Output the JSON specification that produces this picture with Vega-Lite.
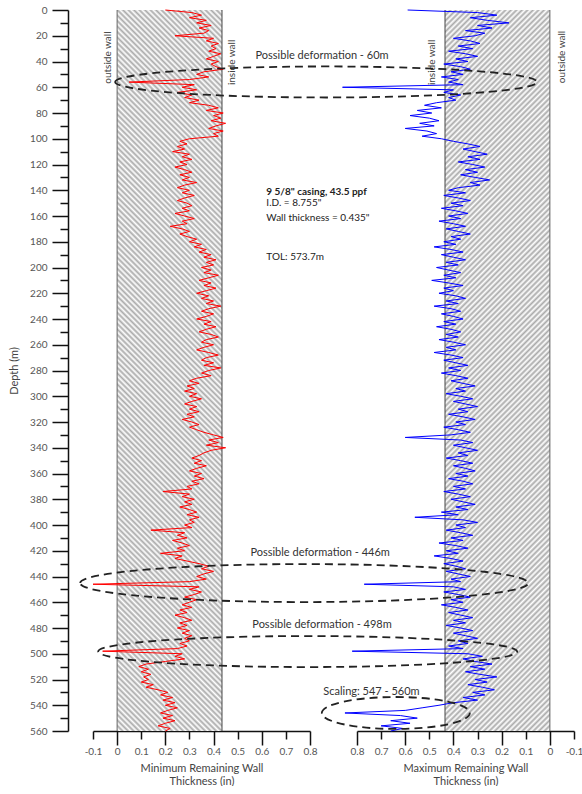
{
"$schema":"https://vega.github.io/schema/vega-lite/v6.json",
"padding":{"left":8,"top":5,"right":0,"bottom":0},
"bounds":"flush",
"spacing":47,
"config":{"font":"Lato","view":{"stroke":null},"axis":{"grid":false,"labelFont":"Lato","titleFont":"Lato","labelColor":"#555","titleColor":"#444","titleFontWeight":"normal","labelFontSize":10,"titleFontSize":11,"domainColor":"#111","tickColor":"#111","domainWidth":1.5,"tickWidth":1.5},"text":{"font":"Lato"}},
"datasets":{
"walls":[{"inner":0.435,"outer":0,"top":0,"bottom":560}],
"notes":[
{"k":"def","t":"Possible deformation - 60m","d":36.1,"v":0.945},
{"k":"def","t":"Possible deformation - 446m","d":421.9,"v":0.953},
{"k":"def","t":"Possible deformation - 498m","d":477.7,"v":0.945},
{"k":"def","t":"Scaling: 547 - 560m","d":529.7,"v":0.74},
{"k":"head","t":"9 5/8\" casing, 43.5 ppf","d":141.4,"v":1.176},
{"k":"info","t":"I.D. = 8.755\"","d":149.6,"v":1.176},
{"k":"info","t":"Wall thickness = 0.435\"","d":161.3,"v":1.176},
{"k":"info","t":"TOL: 573.7m","d":191.6,"v":1.176},
{"k":"wallL","t":"outside wall","d":37,"v":-0.037},
{"k":"wallL","t":"inside wall","d":40.7,"v":0.477},
{"k":"wallR","t":"inside wall","d":40.7,"v":0.49},
{"k":"wallR","t":"outside wall","d":36.5,"v":-0.052}],
"zones":[{"z":"60m","d":55.9,"v":0.928},{"z":"446m","d":445.1,"v":1.019},{"z":"498m","d":498.3,"v":1.0045},{"z":"scaling","d":546,"v":0.639}],
"log":[
{"d":0,"a":0.2,"b":0.59},{"d":2,"a":0.31,"b":0.3},{"d":4,"a":0.35,"b":0.22},{"d":6,"a":0.3,"b":0.33},{"d":8,"a":0.37,"b":0.26},{"d":10,"a":0.33,"b":0.17},{"d":12,"a":0.39,"b":0.3},{"d":14,"a":0.34,"b":0.24},{"d":16,"a":0.38,"b":0.35},{"d":18,"a":0.36,"b":0.27},
{"d":20,"a":0.24,"b":0.31},{"d":22,"a":0.4,"b":0.4},{"d":24,"a":0.37,"b":0.33},{"d":26,"a":0.42,"b":0.29},{"d":28,"a":0.39,"b":0.38},{"d":30,"a":0.41,"b":0.32},{"d":32,"a":0.38,"b":0.42},{"d":34,"a":0.43,"b":0.35},{"d":36,"a":0.4,"b":0.3},{"d":38,"a":0.37,"b":0.39},
{"d":40,"a":0.42,"b":0.34},{"d":42,"a":0.39,"b":0.44},{"d":44,"a":0.41,"b":0.37},{"d":46,"a":0.44,"b":0.33},{"d":48,"a":0.36,"b":0.41},{"d":50,"a":0.33,"b":0.36},{"d":52,"a":0.38,"b":0.45},{"d":54,"a":0.3,"b":0.38},{"d":56,"a":0.05,"b":0.42},{"d":58,"a":0.32,"b":0.36},
{"d":60,"a":0.27,"b":0.86},{"d":62,"a":0.33,"b":0.4},{"d":64,"a":0.25,"b":0.44},{"d":66,"a":0.31,"b":0.37},{"d":68,"a":0.28,"b":0.42},{"d":70,"a":0.34,"b":0.39},{"d":72,"a":0.3,"b":0.47},{"d":74,"a":0.38,"b":0.52},{"d":76,"a":0.42,"b":0.45},{"d":78,"a":0.37,"b":0.55},
{"d":80,"a":0.44,"b":0.49},{"d":82,"a":0.4,"b":0.58},{"d":84,"a":0.43,"b":0.5},{"d":86,"a":0.39,"b":0.46},{"d":88,"a":0.45,"b":0.54},{"d":90,"a":0.41,"b":0.48},{"d":92,"a":0.38,"b":0.6},{"d":94,"a":0.44,"b":0.51},{"d":96,"a":0.4,"b":0.47},{"d":98,"a":0.42,"b":0.53},
{"d":100,"a":0.3,"b":0.45},{"d":102,"a":0.26,"b":0.4},{"d":104,"a":0.29,"b":0.34},{"d":106,"a":0.25,"b":0.29},{"d":108,"a":0.28,"b":0.36},{"d":110,"a":0.23,"b":0.31},{"d":112,"a":0.3,"b":0.26},{"d":114,"a":0.27,"b":0.34},{"d":116,"a":0.31,"b":0.29},{"d":118,"a":0.26,"b":0.38},
{"d":120,"a":0.29,"b":0.32},{"d":122,"a":0.24,"b":0.27},{"d":124,"a":0.28,"b":0.35},{"d":126,"a":0.31,"b":0.3},{"d":128,"a":0.26,"b":0.37},{"d":130,"a":0.3,"b":0.31},{"d":132,"a":0.27,"b":0.25},{"d":134,"a":0.33,"b":0.33},{"d":136,"a":0.28,"b":0.29},{"d":138,"a":0.25,"b":0.38},
{"d":140,"a":0.3,"b":0.42},{"d":142,"a":0.27,"b":0.35},{"d":144,"a":0.32,"b":0.44},{"d":146,"a":0.28,"b":0.38},{"d":148,"a":0.25,"b":0.33},{"d":150,"a":0.29,"b":0.41},{"d":152,"a":0.31,"b":0.36},{"d":154,"a":0.27,"b":0.45},{"d":156,"a":0.3,"b":0.39},{"d":158,"a":0.24,"b":0.34},
{"d":160,"a":0.28,"b":0.42},{"d":162,"a":0.32,"b":0.37},{"d":164,"a":0.27,"b":0.46},{"d":166,"a":0.29,"b":0.4},{"d":168,"a":0.22,"b":0.35},{"d":170,"a":0.27,"b":0.43},{"d":172,"a":0.3,"b":0.38},{"d":174,"a":0.26,"b":0.33},{"d":176,"a":0.29,"b":0.41},{"d":178,"a":0.33,"b":0.37},
{"d":180,"a":0.3,"b":0.44},{"d":182,"a":0.35,"b":0.39},{"d":184,"a":0.32,"b":0.48},{"d":186,"a":0.37,"b":0.41},{"d":188,"a":0.34,"b":0.36},{"d":190,"a":0.39,"b":0.45},{"d":192,"a":0.36,"b":0.4},{"d":194,"a":0.41,"b":0.35},{"d":196,"a":0.37,"b":0.43},{"d":198,"a":0.4,"b":0.38},
{"d":200,"a":0.35,"b":0.47},{"d":202,"a":0.39,"b":0.42},{"d":204,"a":0.36,"b":0.37},{"d":206,"a":0.42,"b":0.44},{"d":208,"a":0.38,"b":0.39},{"d":210,"a":0.34,"b":0.49},{"d":212,"a":0.39,"b":0.42},{"d":214,"a":0.36,"b":0.36},{"d":216,"a":0.41,"b":0.44},{"d":218,"a":0.37,"b":0.4},
{"d":220,"a":0.33,"b":0.46},{"d":222,"a":0.38,"b":0.39},{"d":224,"a":0.35,"b":0.35},{"d":226,"a":0.4,"b":0.43},{"d":228,"a":0.37,"b":0.38},{"d":230,"a":0.43,"b":0.48},{"d":232,"a":0.38,"b":0.41},{"d":234,"a":0.35,"b":0.37},{"d":236,"a":0.4,"b":0.45},{"d":238,"a":0.37,"b":0.4},
{"d":240,"a":0.33,"b":0.36},{"d":242,"a":0.39,"b":0.44},{"d":244,"a":0.36,"b":0.39},{"d":246,"a":0.41,"b":0.47},{"d":248,"a":0.37,"b":0.41},{"d":250,"a":0.34,"b":0.37},{"d":252,"a":0.39,"b":0.43},{"d":254,"a":0.42,"b":0.38},{"d":256,"a":0.37,"b":0.46},{"d":258,"a":0.35,"b":0.4},
{"d":260,"a":0.4,"b":0.35},{"d":262,"a":0.36,"b":0.43},{"d":264,"a":0.33,"b":0.39},{"d":266,"a":0.38,"b":0.48},{"d":268,"a":0.42,"b":0.41},{"d":270,"a":0.37,"b":0.36},{"d":272,"a":0.35,"b":0.44},{"d":274,"a":0.4,"b":0.39},{"d":276,"a":0.36,"b":0.34},{"d":278,"a":0.43,"b":0.42},
{"d":280,"a":0.38,"b":0.37},{"d":282,"a":0.35,"b":0.45},{"d":284,"a":0.39,"b":0.39},{"d":286,"a":0.33,"b":0.34},{"d":288,"a":0.3,"b":0.41},{"d":290,"a":0.34,"b":0.36},{"d":292,"a":0.29,"b":0.31},{"d":294,"a":0.32,"b":0.39},{"d":296,"a":0.28,"b":0.35},{"d":298,"a":0.33,"b":0.43},
{"d":300,"a":0.3,"b":0.37},{"d":302,"a":0.35,"b":0.32},{"d":304,"a":0.31,"b":0.4},{"d":306,"a":0.28,"b":0.35},{"d":308,"a":0.33,"b":0.3},{"d":310,"a":0.3,"b":0.38},{"d":312,"a":0.34,"b":0.34},{"d":314,"a":0.29,"b":0.42},{"d":316,"a":0.32,"b":0.36},{"d":318,"a":0.27,"b":0.31},
{"d":320,"a":0.31,"b":0.39},{"d":322,"a":0.34,"b":0.35},{"d":324,"a":0.3,"b":0.44},{"d":326,"a":0.33,"b":0.38},{"d":328,"a":0.36,"b":0.33},{"d":330,"a":0.4,"b":0.41},{"d":332,"a":0.44,"b":0.6},{"d":334,"a":0.38,"b":0.37},{"d":336,"a":0.42,"b":0.32},{"d":338,"a":0.37,"b":0.4},
{"d":340,"a":0.45,"b":0.35},{"d":342,"a":0.39,"b":0.3},{"d":344,"a":0.36,"b":0.38},{"d":346,"a":0.34,"b":0.34},{"d":348,"a":0.31,"b":0.43},{"d":350,"a":0.35,"b":0.37},{"d":352,"a":0.32,"b":0.32},{"d":354,"a":0.37,"b":0.4},{"d":356,"a":0.33,"b":0.35},{"d":358,"a":0.3,"b":0.31},
{"d":360,"a":0.35,"b":0.39},{"d":362,"a":0.32,"b":0.34},{"d":364,"a":0.36,"b":0.42},{"d":366,"a":0.31,"b":0.36},{"d":368,"a":0.34,"b":0.32},{"d":370,"a":0.29,"b":0.4},{"d":372,"a":0.31,"b":0.35},{"d":374,"a":0.19,"b":0.44},{"d":376,"a":0.3,"b":0.38},{"d":378,"a":0.27,"b":0.33},
{"d":380,"a":0.32,"b":0.41},{"d":382,"a":0.28,"b":0.36},{"d":384,"a":0.31,"b":0.31},{"d":386,"a":0.26,"b":0.39},{"d":388,"a":0.3,"b":0.34},{"d":390,"a":0.33,"b":0.45},{"d":392,"a":0.29,"b":0.38},{"d":394,"a":0.34,"b":0.56},{"d":396,"a":0.3,"b":0.36},{"d":398,"a":0.32,"b":0.3},
{"d":400,"a":0.28,"b":0.39},{"d":402,"a":0.31,"b":0.35},{"d":404,"a":0.14,"b":0.43},{"d":406,"a":0.28,"b":0.37},{"d":408,"a":0.25,"b":0.32},{"d":410,"a":0.29,"b":0.41},{"d":412,"a":0.23,"b":0.36},{"d":414,"a":0.27,"b":0.46},{"d":416,"a":0.3,"b":0.39},{"d":418,"a":0.25,"b":0.34},
{"d":420,"a":0.28,"b":0.43},{"d":422,"a":0.18,"b":0.38},{"d":424,"a":0.27,"b":0.48},{"d":426,"a":0.24,"b":0.41},{"d":428,"a":0.29,"b":0.36},{"d":430,"a":0.34,"b":0.44},{"d":432,"a":0.38,"b":0.39},{"d":434,"a":0.35,"b":0.35},{"d":436,"a":0.4,"b":0.43},{"d":438,"a":0.36,"b":0.38},
{"d":440,"a":0.33,"b":0.33},{"d":442,"a":0.37,"b":0.41},{"d":444,"a":0.3,"b":0.37},{"d":446,"a":-0.1,"b":0.77},{"d":448,"a":0.34,"b":0.4},{"d":450,"a":0.3,"b":0.35},{"d":452,"a":0.35,"b":0.44},{"d":454,"a":0.32,"b":0.38},{"d":456,"a":0.28,"b":0.33},{"d":458,"a":0.33,"b":0.41},
{"d":460,"a":0.3,"b":0.36},{"d":462,"a":0.27,"b":0.45},{"d":464,"a":0.31,"b":0.39},{"d":466,"a":0.26,"b":0.34},{"d":468,"a":0.29,"b":0.42},{"d":470,"a":0.24,"b":0.37},{"d":472,"a":0.28,"b":0.32},{"d":474,"a":0.31,"b":0.4},{"d":476,"a":0.26,"b":0.35},{"d":478,"a":0.29,"b":0.43},
{"d":480,"a":0.25,"b":0.37},{"d":482,"a":0.3,"b":0.32},{"d":484,"a":0.27,"b":0.4},{"d":486,"a":0.31,"b":0.35},{"d":488,"a":0.28,"b":0.3},{"d":490,"a":0.3,"b":0.38},{"d":492,"a":0.26,"b":0.34},{"d":494,"a":0.29,"b":0.42},{"d":496,"a":0.25,"b":0.36},{"d":498,"a":-0.06,"b":0.82},
{"d":500,"a":0.27,"b":0.34},{"d":502,"a":0.24,"b":0.28},{"d":504,"a":0.28,"b":0.36},{"d":506,"a":0.2,"b":0.31},{"d":508,"a":0.12,"b":0.24},{"d":510,"a":0.09,"b":0.33},{"d":512,"a":0.13,"b":0.27},{"d":514,"a":0.1,"b":0.35},{"d":516,"a":0.14,"b":0.29},{"d":518,"a":0.11,"b":0.22},
{"d":520,"a":0.13,"b":0.31},{"d":522,"a":0.1,"b":0.26},{"d":524,"a":0.15,"b":0.34},{"d":526,"a":0.12,"b":0.28},{"d":528,"a":0.17,"b":0.23},{"d":530,"a":0.21,"b":0.32},{"d":532,"a":0.18,"b":0.27},{"d":534,"a":0.23,"b":0.36},{"d":536,"a":0.19,"b":0.3},{"d":538,"a":0.24,"b":0.4},
{"d":540,"a":0.2,"b":0.46},{"d":542,"a":0.25,"b":0.53},{"d":544,"a":0.21,"b":0.6},{"d":546,"a":0.18,"b":0.85},{"d":548,"a":0.23,"b":0.62},{"d":550,"a":0.19,"b":0.55},{"d":552,"a":0.24,"b":0.66},{"d":554,"a":0.2,"b":0.58},{"d":556,"a":0.17,"b":0.7},{"d":558,"a":0.22,"b":0.61},
{"d":560,"a":0.2,"b":0.66}]
},
"hconcat":[
{"width":217,"height":721,
"layer":[
{"data":{"name":"walls"},
"mark":{"type":"rect","stroke":null,"fill":{"gradient":"linear","x1":0,"y1":1,"x2":0.1632,"y2":-0.1218,"stops":[
{"offset":0,"color":"#aaa"},{"offset":0.0033,"color":"#fff"},{"offset":0.0067,"color":"#aaa"},{"offset":0.01,"color":"#fff"},{"offset":0.0133,"color":"#aaa"},{"offset":0.0167,"color":"#fff"},{"offset":0.02,"color":"#aaa"},{"offset":0.0233,"color":"#fff"},{"offset":0.0267,"color":"#aaa"},{"offset":0.03,"color":"#fff"},{"offset":0.0333,"color":"#aaa"},{"offset":0.0367,"color":"#fff"},{"offset":0.04,"color":"#aaa"},{"offset":0.0433,"color":"#fff"},{"offset":0.0467,"color":"#aaa"},{"offset":0.05,"color":"#fff"},{"offset":0.0533,"color":"#aaa"},{"offset":0.0567,"color":"#fff"},{"offset":0.06,"color":"#aaa"},{"offset":0.0633,"color":"#fff"},{"offset":0.0667,"color":"#aaa"},{"offset":0.07,"color":"#fff"},{"offset":0.0733,"color":"#aaa"},{"offset":0.0767,"color":"#fff"},{"offset":0.08,"color":"#aaa"},{"offset":0.0833,"color":"#fff"},{"offset":0.0867,"color":"#aaa"},{"offset":0.09,"color":"#fff"},{"offset":0.0933,"color":"#aaa"},{"offset":0.0967,"color":"#fff"},
{"offset":0.10,"color":"#aaa"},{"offset":0.1033,"color":"#fff"},{"offset":0.1067,"color":"#aaa"},{"offset":0.11,"color":"#fff"},{"offset":0.1133,"color":"#aaa"},{"offset":0.1167,"color":"#fff"},{"offset":0.12,"color":"#aaa"},{"offset":0.1233,"color":"#fff"},{"offset":0.1267,"color":"#aaa"},{"offset":0.13,"color":"#fff"},{"offset":0.1333,"color":"#aaa"},{"offset":0.1367,"color":"#fff"},{"offset":0.14,"color":"#aaa"},{"offset":0.1433,"color":"#fff"},{"offset":0.1467,"color":"#aaa"},{"offset":0.15,"color":"#fff"},{"offset":0.1533,"color":"#aaa"},{"offset":0.1567,"color":"#fff"},{"offset":0.16,"color":"#aaa"},{"offset":0.1633,"color":"#fff"},{"offset":0.1667,"color":"#aaa"},{"offset":0.17,"color":"#fff"},{"offset":0.1733,"color":"#aaa"},{"offset":0.1767,"color":"#fff"},{"offset":0.18,"color":"#aaa"},{"offset":0.1833,"color":"#fff"},{"offset":0.1867,"color":"#aaa"},{"offset":0.19,"color":"#fff"},{"offset":0.1933,"color":"#aaa"},{"offset":0.1967,"color":"#fff"},
{"offset":0.20,"color":"#aaa"},{"offset":0.2033,"color":"#fff"},{"offset":0.2067,"color":"#aaa"},{"offset":0.21,"color":"#fff"},{"offset":0.2133,"color":"#aaa"},{"offset":0.2167,"color":"#fff"},{"offset":0.22,"color":"#aaa"},{"offset":0.2233,"color":"#fff"},{"offset":0.2267,"color":"#aaa"},{"offset":0.23,"color":"#fff"},{"offset":0.2333,"color":"#aaa"},{"offset":0.2367,"color":"#fff"},{"offset":0.24,"color":"#aaa"},{"offset":0.2433,"color":"#fff"},{"offset":0.2467,"color":"#aaa"},{"offset":0.25,"color":"#fff"},{"offset":0.2533,"color":"#aaa"},{"offset":0.2567,"color":"#fff"},{"offset":0.26,"color":"#aaa"},{"offset":0.2633,"color":"#fff"},{"offset":0.2667,"color":"#aaa"},{"offset":0.27,"color":"#fff"},{"offset":0.2733,"color":"#aaa"},{"offset":0.2767,"color":"#fff"},{"offset":0.28,"color":"#aaa"},{"offset":0.2833,"color":"#fff"},{"offset":0.2867,"color":"#aaa"},{"offset":0.29,"color":"#fff"},{"offset":0.2933,"color":"#aaa"},{"offset":0.2967,"color":"#fff"},
{"offset":0.30,"color":"#aaa"},{"offset":0.3033,"color":"#fff"},{"offset":0.3067,"color":"#aaa"},{"offset":0.31,"color":"#fff"},{"offset":0.3133,"color":"#aaa"},{"offset":0.3167,"color":"#fff"},{"offset":0.32,"color":"#aaa"},{"offset":0.3233,"color":"#fff"},{"offset":0.3267,"color":"#aaa"},{"offset":0.33,"color":"#fff"},{"offset":0.3333,"color":"#aaa"},{"offset":0.3367,"color":"#fff"},{"offset":0.34,"color":"#aaa"},{"offset":0.3433,"color":"#fff"},{"offset":0.3467,"color":"#aaa"},{"offset":0.35,"color":"#fff"},{"offset":0.3533,"color":"#aaa"},{"offset":0.3567,"color":"#fff"},{"offset":0.36,"color":"#aaa"},{"offset":0.3633,"color":"#fff"},{"offset":0.3667,"color":"#aaa"},{"offset":0.37,"color":"#fff"},{"offset":0.3733,"color":"#aaa"},{"offset":0.3767,"color":"#fff"},{"offset":0.38,"color":"#aaa"},{"offset":0.3833,"color":"#fff"},{"offset":0.3867,"color":"#aaa"},{"offset":0.39,"color":"#fff"},{"offset":0.3933,"color":"#aaa"},{"offset":0.3967,"color":"#fff"},
{"offset":0.40,"color":"#aaa"},{"offset":0.4033,"color":"#fff"},{"offset":0.4067,"color":"#aaa"},{"offset":0.41,"color":"#fff"},{"offset":0.4133,"color":"#aaa"},{"offset":0.4167,"color":"#fff"},{"offset":0.42,"color":"#aaa"},{"offset":0.4233,"color":"#fff"},{"offset":0.4267,"color":"#aaa"},{"offset":0.43,"color":"#fff"},{"offset":0.4333,"color":"#aaa"},{"offset":0.4367,"color":"#fff"},{"offset":0.44,"color":"#aaa"},{"offset":0.4433,"color":"#fff"},{"offset":0.4467,"color":"#aaa"},{"offset":0.45,"color":"#fff"},{"offset":0.4533,"color":"#aaa"},{"offset":0.4567,"color":"#fff"},{"offset":0.46,"color":"#aaa"},{"offset":0.4633,"color":"#fff"},{"offset":0.4667,"color":"#aaa"},{"offset":0.47,"color":"#fff"},{"offset":0.4733,"color":"#aaa"},{"offset":0.4767,"color":"#fff"},{"offset":0.48,"color":"#aaa"},{"offset":0.4833,"color":"#fff"},{"offset":0.4867,"color":"#aaa"},{"offset":0.49,"color":"#fff"},{"offset":0.4933,"color":"#aaa"},{"offset":0.4967,"color":"#fff"},
{"offset":0.50,"color":"#aaa"},{"offset":0.5033,"color":"#fff"},{"offset":0.5067,"color":"#aaa"},{"offset":0.51,"color":"#fff"},{"offset":0.5133,"color":"#aaa"},{"offset":0.5167,"color":"#fff"},{"offset":0.52,"color":"#aaa"},{"offset":0.5233,"color":"#fff"},{"offset":0.5267,"color":"#aaa"},{"offset":0.53,"color":"#fff"},{"offset":0.5333,"color":"#aaa"},{"offset":0.5367,"color":"#fff"},{"offset":0.54,"color":"#aaa"},{"offset":0.5433,"color":"#fff"},{"offset":0.5467,"color":"#aaa"},{"offset":0.55,"color":"#fff"},{"offset":0.5533,"color":"#aaa"},{"offset":0.5567,"color":"#fff"},{"offset":0.56,"color":"#aaa"},{"offset":0.5633,"color":"#fff"},{"offset":0.5667,"color":"#aaa"},{"offset":0.57,"color":"#fff"},{"offset":0.5733,"color":"#aaa"},{"offset":0.5767,"color":"#fff"},{"offset":0.58,"color":"#aaa"},{"offset":0.5833,"color":"#fff"},{"offset":0.5867,"color":"#aaa"},{"offset":0.59,"color":"#fff"},{"offset":0.5933,"color":"#aaa"},{"offset":0.5967,"color":"#fff"},
{"offset":0.60,"color":"#aaa"},{"offset":0.6033,"color":"#fff"},{"offset":0.6067,"color":"#aaa"},{"offset":0.61,"color":"#fff"},{"offset":0.6133,"color":"#aaa"},{"offset":0.6167,"color":"#fff"},{"offset":0.62,"color":"#aaa"},{"offset":0.6233,"color":"#fff"},{"offset":0.6267,"color":"#aaa"},{"offset":0.63,"color":"#fff"},{"offset":0.6333,"color":"#aaa"},{"offset":0.6367,"color":"#fff"},{"offset":0.64,"color":"#aaa"},{"offset":0.6433,"color":"#fff"},{"offset":0.6467,"color":"#aaa"},{"offset":0.65,"color":"#fff"},{"offset":0.6533,"color":"#aaa"},{"offset":0.6567,"color":"#fff"},{"offset":0.66,"color":"#aaa"},{"offset":0.6633,"color":"#fff"},{"offset":0.6667,"color":"#aaa"},{"offset":0.67,"color":"#fff"},{"offset":0.6733,"color":"#aaa"},{"offset":0.6767,"color":"#fff"},{"offset":0.68,"color":"#aaa"},{"offset":0.6833,"color":"#fff"},{"offset":0.6867,"color":"#aaa"},{"offset":0.69,"color":"#fff"},{"offset":0.6933,"color":"#aaa"},{"offset":0.6967,"color":"#fff"},
{"offset":0.70,"color":"#aaa"},{"offset":0.7033,"color":"#fff"},{"offset":0.7067,"color":"#aaa"},{"offset":0.71,"color":"#fff"},{"offset":0.7133,"color":"#aaa"},{"offset":0.7167,"color":"#fff"},{"offset":0.72,"color":"#aaa"},{"offset":0.7233,"color":"#fff"},{"offset":0.7267,"color":"#aaa"},{"offset":0.73,"color":"#fff"},{"offset":0.7333,"color":"#aaa"},{"offset":0.7367,"color":"#fff"},{"offset":0.74,"color":"#aaa"},{"offset":0.7433,"color":"#fff"},{"offset":0.7467,"color":"#aaa"},{"offset":0.75,"color":"#fff"},{"offset":0.7533,"color":"#aaa"},{"offset":0.7567,"color":"#fff"},{"offset":0.76,"color":"#aaa"},{"offset":0.7633,"color":"#fff"},{"offset":0.7667,"color":"#aaa"},{"offset":0.77,"color":"#fff"},{"offset":0.7733,"color":"#aaa"},{"offset":0.7767,"color":"#fff"},{"offset":0.78,"color":"#aaa"},{"offset":0.7833,"color":"#fff"},{"offset":0.7867,"color":"#aaa"},{"offset":0.79,"color":"#fff"},{"offset":0.7933,"color":"#aaa"},{"offset":0.7967,"color":"#fff"},
{"offset":0.80,"color":"#aaa"},{"offset":0.8033,"color":"#fff"},{"offset":0.8067,"color":"#aaa"},{"offset":0.81,"color":"#fff"},{"offset":0.8133,"color":"#aaa"},{"offset":0.8167,"color":"#fff"},{"offset":0.82,"color":"#aaa"},{"offset":0.8233,"color":"#fff"},{"offset":0.8267,"color":"#aaa"},{"offset":0.83,"color":"#fff"},{"offset":0.8333,"color":"#aaa"},{"offset":0.8367,"color":"#fff"},{"offset":0.84,"color":"#aaa"},{"offset":0.8433,"color":"#fff"},{"offset":0.8467,"color":"#aaa"},{"offset":0.85,"color":"#fff"},{"offset":0.8533,"color":"#aaa"},{"offset":0.8567,"color":"#fff"},{"offset":0.86,"color":"#aaa"},{"offset":0.8633,"color":"#fff"},{"offset":0.8667,"color":"#aaa"},{"offset":0.87,"color":"#fff"},{"offset":0.8733,"color":"#aaa"},{"offset":0.8767,"color":"#fff"},{"offset":0.88,"color":"#aaa"},{"offset":0.8833,"color":"#fff"},{"offset":0.8867,"color":"#aaa"},{"offset":0.89,"color":"#fff"},{"offset":0.8933,"color":"#aaa"},{"offset":0.8967,"color":"#fff"},
{"offset":0.90,"color":"#aaa"},{"offset":0.9033,"color":"#fff"},{"offset":0.9067,"color":"#aaa"},{"offset":0.91,"color":"#fff"},{"offset":0.9133,"color":"#aaa"},{"offset":0.9167,"color":"#fff"},{"offset":0.92,"color":"#aaa"},{"offset":0.9233,"color":"#fff"},{"offset":0.9267,"color":"#aaa"},{"offset":0.93,"color":"#fff"},{"offset":0.9333,"color":"#aaa"},{"offset":0.9367,"color":"#fff"},{"offset":0.94,"color":"#aaa"},{"offset":0.9433,"color":"#fff"},{"offset":0.9467,"color":"#aaa"},{"offset":0.95,"color":"#fff"},{"offset":0.9533,"color":"#aaa"},{"offset":0.9567,"color":"#fff"},{"offset":0.96,"color":"#aaa"},{"offset":0.9633,"color":"#fff"},{"offset":0.9667,"color":"#aaa"},{"offset":0.97,"color":"#fff"},{"offset":0.9733,"color":"#aaa"},{"offset":0.9767,"color":"#fff"},{"offset":0.98,"color":"#aaa"},{"offset":0.9833,"color":"#fff"},{"offset":0.9867,"color":"#aaa"},{"offset":0.99,"color":"#fff"},{"offset":0.9933,"color":"#aaa"},{"offset":0.9967,"color":"#fff"},{"offset":1,"color":"#aaa"}]}},
"encoding":{
"x":{"field":"outer","type":"quantitative","scale":{"domain":[-0.1,0.8],"nice":false,"zero":false},
"axis":{"title":["Minimum Remaining Wall","Thickness (in)"],"values":[-0.1,0,0.1,0.2,0.3,0.4,0.5,0.6,0.7,0.8],"tickCount":100,
"labelExpr":"datum.value < 0 ? '-' + format(-datum.value, '.1f') : datum.value == 0 ? '0' : format(datum.value, '.1f')",
"tickSize":{"condition":{"test":"abs(round(datum.value*10)) % 2 == 0","value":14},"value":8},
"labelPadding":{"condition":{"test":"abs(round(datum.value*10)) % 2 == 0","value":1},"value":7},
"labelOverlap":false,"labelFlush":false,"titlePadding":6,"titleLineHeight":13}},
"x2":{"field":"inner"},
"y":{"field":"top","type":"quantitative","scale":{"domain":[0,560],"reverse":true,"nice":false,"zero":false},
"axis":{"title":"Depth (m)","values":[0,10,20,30,40,50,60,70,80,90,100,110,120,130,140,150,160,170,180,190,200,210,220,230,240,250,260,270,280,290,300,310,320,330,340,350,360,370,380,390,400,410,420,430,440,450,460,470,480,490,500,510,520,530,540,550,560],"tickCount":100,
"labelExpr":"datum.value % 20 == 0 ? datum.label : ''",
"tickSize":{"condition":{"test":"datum.value % 20 == 0","value":16},"value":8},
"offset":25,"labelPadding":5,"labelOverlap":false,"labelFlush":false,"titlePadding":10}},
"y2":{"field":"bottom"}}},
{"data":{"name":"walls"},"mark":{"type":"rule","color":"#666","strokeWidth":1},"encoding":{"x":{"field":"outer","type":"quantitative"}}},
{"data":{"name":"walls"},"mark":{"type":"rule","color":"#444","strokeWidth":1},"encoding":{"x":{"field":"inner","type":"quantitative"}}},
{"data":{"name":"log"},"mark":{"type":"line","color":"#ff0000","strokeWidth":1},"encoding":{"x":{"field":"a","type":"quantitative"},"y":{"field":"d","type":"quantitative"},"order":{"field":"d"}}},
{"data":{"name":"notes"},"transform":[{"filter":"datum.k == 'wallL'"}],"mark":{"type":"text","angle":270,"fontSize":10,"color":"#444"},"encoding":{"x":{"field":"v","type":"quantitative"},"y":{"field":"d","type":"quantitative"},"text":{"field":"t"}}}
]},
{"width":217,"height":721,
"layer":[
{"data":{"name":"walls"},
"mark":{"type":"rect","stroke":null,"fill":{"gradient":"linear","x1":0,"y1":0,"x2":0.1632,"y2":1.1218,"stops":[
{"offset":0,"color":"#aaa"},{"offset":0.0033,"color":"#fff"},{"offset":0.0067,"color":"#aaa"},{"offset":0.01,"color":"#fff"},{"offset":0.0133,"color":"#aaa"},{"offset":0.0167,"color":"#fff"},{"offset":0.02,"color":"#aaa"},{"offset":0.0233,"color":"#fff"},{"offset":0.0267,"color":"#aaa"},{"offset":0.03,"color":"#fff"},{"offset":0.0333,"color":"#aaa"},{"offset":0.0367,"color":"#fff"},{"offset":0.04,"color":"#aaa"},{"offset":0.0433,"color":"#fff"},{"offset":0.0467,"color":"#aaa"},{"offset":0.05,"color":"#fff"},{"offset":0.0533,"color":"#aaa"},{"offset":0.0567,"color":"#fff"},{"offset":0.06,"color":"#aaa"},{"offset":0.0633,"color":"#fff"},{"offset":0.0667,"color":"#aaa"},{"offset":0.07,"color":"#fff"},{"offset":0.0733,"color":"#aaa"},{"offset":0.0767,"color":"#fff"},{"offset":0.08,"color":"#aaa"},{"offset":0.0833,"color":"#fff"},{"offset":0.0867,"color":"#aaa"},{"offset":0.09,"color":"#fff"},{"offset":0.0933,"color":"#aaa"},{"offset":0.0967,"color":"#fff"},
{"offset":0.10,"color":"#aaa"},{"offset":0.1033,"color":"#fff"},{"offset":0.1067,"color":"#aaa"},{"offset":0.11,"color":"#fff"},{"offset":0.1133,"color":"#aaa"},{"offset":0.1167,"color":"#fff"},{"offset":0.12,"color":"#aaa"},{"offset":0.1233,"color":"#fff"},{"offset":0.1267,"color":"#aaa"},{"offset":0.13,"color":"#fff"},{"offset":0.1333,"color":"#aaa"},{"offset":0.1367,"color":"#fff"},{"offset":0.14,"color":"#aaa"},{"offset":0.1433,"color":"#fff"},{"offset":0.1467,"color":"#aaa"},{"offset":0.15,"color":"#fff"},{"offset":0.1533,"color":"#aaa"},{"offset":0.1567,"color":"#fff"},{"offset":0.16,"color":"#aaa"},{"offset":0.1633,"color":"#fff"},{"offset":0.1667,"color":"#aaa"},{"offset":0.17,"color":"#fff"},{"offset":0.1733,"color":"#aaa"},{"offset":0.1767,"color":"#fff"},{"offset":0.18,"color":"#aaa"},{"offset":0.1833,"color":"#fff"},{"offset":0.1867,"color":"#aaa"},{"offset":0.19,"color":"#fff"},{"offset":0.1933,"color":"#aaa"},{"offset":0.1967,"color":"#fff"},
{"offset":0.20,"color":"#aaa"},{"offset":0.2033,"color":"#fff"},{"offset":0.2067,"color":"#aaa"},{"offset":0.21,"color":"#fff"},{"offset":0.2133,"color":"#aaa"},{"offset":0.2167,"color":"#fff"},{"offset":0.22,"color":"#aaa"},{"offset":0.2233,"color":"#fff"},{"offset":0.2267,"color":"#aaa"},{"offset":0.23,"color":"#fff"},{"offset":0.2333,"color":"#aaa"},{"offset":0.2367,"color":"#fff"},{"offset":0.24,"color":"#aaa"},{"offset":0.2433,"color":"#fff"},{"offset":0.2467,"color":"#aaa"},{"offset":0.25,"color":"#fff"},{"offset":0.2533,"color":"#aaa"},{"offset":0.2567,"color":"#fff"},{"offset":0.26,"color":"#aaa"},{"offset":0.2633,"color":"#fff"},{"offset":0.2667,"color":"#aaa"},{"offset":0.27,"color":"#fff"},{"offset":0.2733,"color":"#aaa"},{"offset":0.2767,"color":"#fff"},{"offset":0.28,"color":"#aaa"},{"offset":0.2833,"color":"#fff"},{"offset":0.2867,"color":"#aaa"},{"offset":0.29,"color":"#fff"},{"offset":0.2933,"color":"#aaa"},{"offset":0.2967,"color":"#fff"},
{"offset":0.30,"color":"#aaa"},{"offset":0.3033,"color":"#fff"},{"offset":0.3067,"color":"#aaa"},{"offset":0.31,"color":"#fff"},{"offset":0.3133,"color":"#aaa"},{"offset":0.3167,"color":"#fff"},{"offset":0.32,"color":"#aaa"},{"offset":0.3233,"color":"#fff"},{"offset":0.3267,"color":"#aaa"},{"offset":0.33,"color":"#fff"},{"offset":0.3333,"color":"#aaa"},{"offset":0.3367,"color":"#fff"},{"offset":0.34,"color":"#aaa"},{"offset":0.3433,"color":"#fff"},{"offset":0.3467,"color":"#aaa"},{"offset":0.35,"color":"#fff"},{"offset":0.3533,"color":"#aaa"},{"offset":0.3567,"color":"#fff"},{"offset":0.36,"color":"#aaa"},{"offset":0.3633,"color":"#fff"},{"offset":0.3667,"color":"#aaa"},{"offset":0.37,"color":"#fff"},{"offset":0.3733,"color":"#aaa"},{"offset":0.3767,"color":"#fff"},{"offset":0.38,"color":"#aaa"},{"offset":0.3833,"color":"#fff"},{"offset":0.3867,"color":"#aaa"},{"offset":0.39,"color":"#fff"},{"offset":0.3933,"color":"#aaa"},{"offset":0.3967,"color":"#fff"},
{"offset":0.40,"color":"#aaa"},{"offset":0.4033,"color":"#fff"},{"offset":0.4067,"color":"#aaa"},{"offset":0.41,"color":"#fff"},{"offset":0.4133,"color":"#aaa"},{"offset":0.4167,"color":"#fff"},{"offset":0.42,"color":"#aaa"},{"offset":0.4233,"color":"#fff"},{"offset":0.4267,"color":"#aaa"},{"offset":0.43,"color":"#fff"},{"offset":0.4333,"color":"#aaa"},{"offset":0.4367,"color":"#fff"},{"offset":0.44,"color":"#aaa"},{"offset":0.4433,"color":"#fff"},{"offset":0.4467,"color":"#aaa"},{"offset":0.45,"color":"#fff"},{"offset":0.4533,"color":"#aaa"},{"offset":0.4567,"color":"#fff"},{"offset":0.46,"color":"#aaa"},{"offset":0.4633,"color":"#fff"},{"offset":0.4667,"color":"#aaa"},{"offset":0.47,"color":"#fff"},{"offset":0.4733,"color":"#aaa"},{"offset":0.4767,"color":"#fff"},{"offset":0.48,"color":"#aaa"},{"offset":0.4833,"color":"#fff"},{"offset":0.4867,"color":"#aaa"},{"offset":0.49,"color":"#fff"},{"offset":0.4933,"color":"#aaa"},{"offset":0.4967,"color":"#fff"},
{"offset":0.50,"color":"#aaa"},{"offset":0.5033,"color":"#fff"},{"offset":0.5067,"color":"#aaa"},{"offset":0.51,"color":"#fff"},{"offset":0.5133,"color":"#aaa"},{"offset":0.5167,"color":"#fff"},{"offset":0.52,"color":"#aaa"},{"offset":0.5233,"color":"#fff"},{"offset":0.5267,"color":"#aaa"},{"offset":0.53,"color":"#fff"},{"offset":0.5333,"color":"#aaa"},{"offset":0.5367,"color":"#fff"},{"offset":0.54,"color":"#aaa"},{"offset":0.5433,"color":"#fff"},{"offset":0.5467,"color":"#aaa"},{"offset":0.55,"color":"#fff"},{"offset":0.5533,"color":"#aaa"},{"offset":0.5567,"color":"#fff"},{"offset":0.56,"color":"#aaa"},{"offset":0.5633,"color":"#fff"},{"offset":0.5667,"color":"#aaa"},{"offset":0.57,"color":"#fff"},{"offset":0.5733,"color":"#aaa"},{"offset":0.5767,"color":"#fff"},{"offset":0.58,"color":"#aaa"},{"offset":0.5833,"color":"#fff"},{"offset":0.5867,"color":"#aaa"},{"offset":0.59,"color":"#fff"},{"offset":0.5933,"color":"#aaa"},{"offset":0.5967,"color":"#fff"},
{"offset":0.60,"color":"#aaa"},{"offset":0.6033,"color":"#fff"},{"offset":0.6067,"color":"#aaa"},{"offset":0.61,"color":"#fff"},{"offset":0.6133,"color":"#aaa"},{"offset":0.6167,"color":"#fff"},{"offset":0.62,"color":"#aaa"},{"offset":0.6233,"color":"#fff"},{"offset":0.6267,"color":"#aaa"},{"offset":0.63,"color":"#fff"},{"offset":0.6333,"color":"#aaa"},{"offset":0.6367,"color":"#fff"},{"offset":0.64,"color":"#aaa"},{"offset":0.6433,"color":"#fff"},{"offset":0.6467,"color":"#aaa"},{"offset":0.65,"color":"#fff"},{"offset":0.6533,"color":"#aaa"},{"offset":0.6567,"color":"#fff"},{"offset":0.66,"color":"#aaa"},{"offset":0.6633,"color":"#fff"},{"offset":0.6667,"color":"#aaa"},{"offset":0.67,"color":"#fff"},{"offset":0.6733,"color":"#aaa"},{"offset":0.6767,"color":"#fff"},{"offset":0.68,"color":"#aaa"},{"offset":0.6833,"color":"#fff"},{"offset":0.6867,"color":"#aaa"},{"offset":0.69,"color":"#fff"},{"offset":0.6933,"color":"#aaa"},{"offset":0.6967,"color":"#fff"},
{"offset":0.70,"color":"#aaa"},{"offset":0.7033,"color":"#fff"},{"offset":0.7067,"color":"#aaa"},{"offset":0.71,"color":"#fff"},{"offset":0.7133,"color":"#aaa"},{"offset":0.7167,"color":"#fff"},{"offset":0.72,"color":"#aaa"},{"offset":0.7233,"color":"#fff"},{"offset":0.7267,"color":"#aaa"},{"offset":0.73,"color":"#fff"},{"offset":0.7333,"color":"#aaa"},{"offset":0.7367,"color":"#fff"},{"offset":0.74,"color":"#aaa"},{"offset":0.7433,"color":"#fff"},{"offset":0.7467,"color":"#aaa"},{"offset":0.75,"color":"#fff"},{"offset":0.7533,"color":"#aaa"},{"offset":0.7567,"color":"#fff"},{"offset":0.76,"color":"#aaa"},{"offset":0.7633,"color":"#fff"},{"offset":0.7667,"color":"#aaa"},{"offset":0.77,"color":"#fff"},{"offset":0.7733,"color":"#aaa"},{"offset":0.7767,"color":"#fff"},{"offset":0.78,"color":"#aaa"},{"offset":0.7833,"color":"#fff"},{"offset":0.7867,"color":"#aaa"},{"offset":0.79,"color":"#fff"},{"offset":0.7933,"color":"#aaa"},{"offset":0.7967,"color":"#fff"},
{"offset":0.80,"color":"#aaa"},{"offset":0.8033,"color":"#fff"},{"offset":0.8067,"color":"#aaa"},{"offset":0.81,"color":"#fff"},{"offset":0.8133,"color":"#aaa"},{"offset":0.8167,"color":"#fff"},{"offset":0.82,"color":"#aaa"},{"offset":0.8233,"color":"#fff"},{"offset":0.8267,"color":"#aaa"},{"offset":0.83,"color":"#fff"},{"offset":0.8333,"color":"#aaa"},{"offset":0.8367,"color":"#fff"},{"offset":0.84,"color":"#aaa"},{"offset":0.8433,"color":"#fff"},{"offset":0.8467,"color":"#aaa"},{"offset":0.85,"color":"#fff"},{"offset":0.8533,"color":"#aaa"},{"offset":0.8567,"color":"#fff"},{"offset":0.86,"color":"#aaa"},{"offset":0.8633,"color":"#fff"},{"offset":0.8667,"color":"#aaa"},{"offset":0.87,"color":"#fff"},{"offset":0.8733,"color":"#aaa"},{"offset":0.8767,"color":"#fff"},{"offset":0.88,"color":"#aaa"},{"offset":0.8833,"color":"#fff"},{"offset":0.8867,"color":"#aaa"},{"offset":0.89,"color":"#fff"},{"offset":0.8933,"color":"#aaa"},{"offset":0.8967,"color":"#fff"},
{"offset":0.90,"color":"#aaa"},{"offset":0.9033,"color":"#fff"},{"offset":0.9067,"color":"#aaa"},{"offset":0.91,"color":"#fff"},{"offset":0.9133,"color":"#aaa"},{"offset":0.9167,"color":"#fff"},{"offset":0.92,"color":"#aaa"},{"offset":0.9233,"color":"#fff"},{"offset":0.9267,"color":"#aaa"},{"offset":0.93,"color":"#fff"},{"offset":0.9333,"color":"#aaa"},{"offset":0.9367,"color":"#fff"},{"offset":0.94,"color":"#aaa"},{"offset":0.9433,"color":"#fff"},{"offset":0.9467,"color":"#aaa"},{"offset":0.95,"color":"#fff"},{"offset":0.9533,"color":"#aaa"},{"offset":0.9567,"color":"#fff"},{"offset":0.96,"color":"#aaa"},{"offset":0.9633,"color":"#fff"},{"offset":0.9667,"color":"#aaa"},{"offset":0.97,"color":"#fff"},{"offset":0.9733,"color":"#aaa"},{"offset":0.9767,"color":"#fff"},{"offset":0.98,"color":"#aaa"},{"offset":0.9833,"color":"#fff"},{"offset":0.9867,"color":"#aaa"},{"offset":0.99,"color":"#fff"},{"offset":0.9933,"color":"#aaa"},{"offset":0.9967,"color":"#fff"},{"offset":1,"color":"#aaa"}]}},
"encoding":{
"x":{"field":"outer","type":"quantitative","scale":{"domain":[-0.1,0.8],"reverse":true,"nice":false,"zero":false},
"axis":{"title":["Maximum Remaining Wall","Thickness (in)"],"values":[-0.1,0,0.1,0.2,0.3,0.4,0.5,0.6,0.7,0.8],"tickCount":100,
"labelExpr":"datum.value < 0 ? '-' + format(-datum.value, '.1f') : datum.value == 0 ? '0' : format(datum.value, '.1f')",
"tickSize":{"condition":{"test":"abs(round(datum.value*10)) % 2 == 0","value":14},"value":8},
"labelPadding":{"condition":{"test":"abs(round(datum.value*10)) % 2 == 0","value":1},"value":7},
"labelOverlap":false,"labelFlush":false,"titlePadding":6,"titleLineHeight":13}},
"x2":{"field":"inner"},
"y":{"field":"top","type":"quantitative","scale":{"domain":[0,560],"reverse":true,"nice":false,"zero":false},"axis":null},
"y2":{"field":"bottom"}}},
{"data":{"name":"walls"},"mark":{"type":"rule","color":"#666","strokeWidth":1},"encoding":{"x":{"field":"outer","type":"quantitative"}}},
{"data":{"name":"walls"},"mark":{"type":"rule","color":"#444","strokeWidth":1},"encoding":{"x":{"field":"inner","type":"quantitative"}}},
{"data":{"name":"log"},"mark":{"type":"line","color":"#0000ff","strokeWidth":1},"encoding":{"x":{"field":"b","type":"quantitative"},"y":{"field":"d","type":"quantitative","axis":null},"order":{"field":"d"}}},
{"data":{"name":"notes"},"transform":[{"filter":"datum.k == 'wallR'"}],"mark":{"type":"text","angle":270,"fontSize":10,"color":"#444"},"encoding":{"x":{"field":"v","type":"quantitative"},"y":{"field":"d","type":"quantitative","axis":null},"text":{"field":"t"}}},
{"data":{"name":"zones"},"transform":[{"filter":"datum.z == '60m'"}],"mark":{"type":"point","filled":false,"opacity":1,"stroke":"#222","strokeWidth":1.8,"strokeDash":[8,5],"size":178084,"shape":"M-1,0C-1,-0.0406,-0.5523,-0.0735,0,-0.0735C0.5523,-0.0735,1,-0.0406,1,0C1,0.0406,0.5523,0.0735,0,0.0735C-0.5523,0.0735,-1,0.0406,-1,0Z"},"encoding":{"x":{"field":"v","type":"quantitative"},"y":{"field":"d","type":"quantitative","axis":null}}},
{"data":{"name":"zones"},"transform":[{"filter":"datum.z == '446m'"}],"mark":{"type":"point","filled":false,"opacity":1,"stroke":"#222","strokeWidth":1.8,"strokeDash":[8,5],"size":200704,"shape":"M-1,0C-1,-0.0468,-0.5523,-0.0848,0,-0.0848C0.5523,-0.0848,1,-0.0468,1,0C1,0.0468,0.5523,0.0848,0,0.0848C-0.5523,0.0848,-1,0.0468,-1,0Z"},"encoding":{"x":{"field":"v","type":"quantitative"},"y":{"field":"d","type":"quantitative","axis":null}}},
{"data":{"name":"zones"},"transform":[{"filter":"datum.z == '498m'"}],"mark":{"type":"point","filled":false,"opacity":1,"stroke":"#222","strokeWidth":1.8,"strokeDash":[8,5],"size":175561,"shape":"M-1,0C-1,-0.0409,-0.5523,-0.074,0,-0.074C0.5523,-0.074,1,-0.0409,1,0C1,0.0409,0.5523,0.074,0,0.074C-0.5523,0.074,-1,0.0409,-1,0Z"},"encoding":{"x":{"field":"v","type":"quantitative"},"y":{"field":"d","type":"quantitative","axis":null}}},
{"data":{"name":"zones"},"transform":[{"filter":"datum.z == 'scaling'"}],"mark":{"type":"point","filled":false,"opacity":1,"stroke":"#222","strokeWidth":1.8,"strokeDash":[8,5],"size":21904,"shape":"M-1,0C-1,-0.1193,-0.5523,-0.216,0,-0.216C0.5523,-0.216,1,-0.1193,1,0C1,0.1193,0.5523,0.216,0,0.216C-0.5523,0.216,-1,0.1193,-1,0Z"},"encoding":{"x":{"field":"v","type":"quantitative"},"y":{"field":"d","type":"quantitative","axis":null}}},
{"data":{"name":"notes"},"transform":[{"filter":"datum.k == 'def'"}],"mark":{"type":"text","fontSize":11,"color":"#333"},"encoding":{"x":{"field":"v","type":"quantitative"},"y":{"field":"d","type":"quantitative","axis":null},"text":{"field":"t"}}},
{"data":{"name":"notes"},"transform":[{"filter":"datum.k == 'head'"}],"mark":{"type":"text","fontSize":10,"fontWeight":"bold","align":"left","color":"#222"},"encoding":{"x":{"field":"v","type":"quantitative"},"y":{"field":"d","type":"quantitative","axis":null},"text":{"field":"t"}}},
{"data":{"name":"notes"},"transform":[{"filter":"datum.k == 'info'"}],"mark":{"type":"text","fontSize":10,"align":"left","color":"#222"},"encoding":{"x":{"field":"v","type":"quantitative"},"y":{"field":"d","type":"quantitative","axis":null},"text":{"field":"t"}}}
]}
]
}
